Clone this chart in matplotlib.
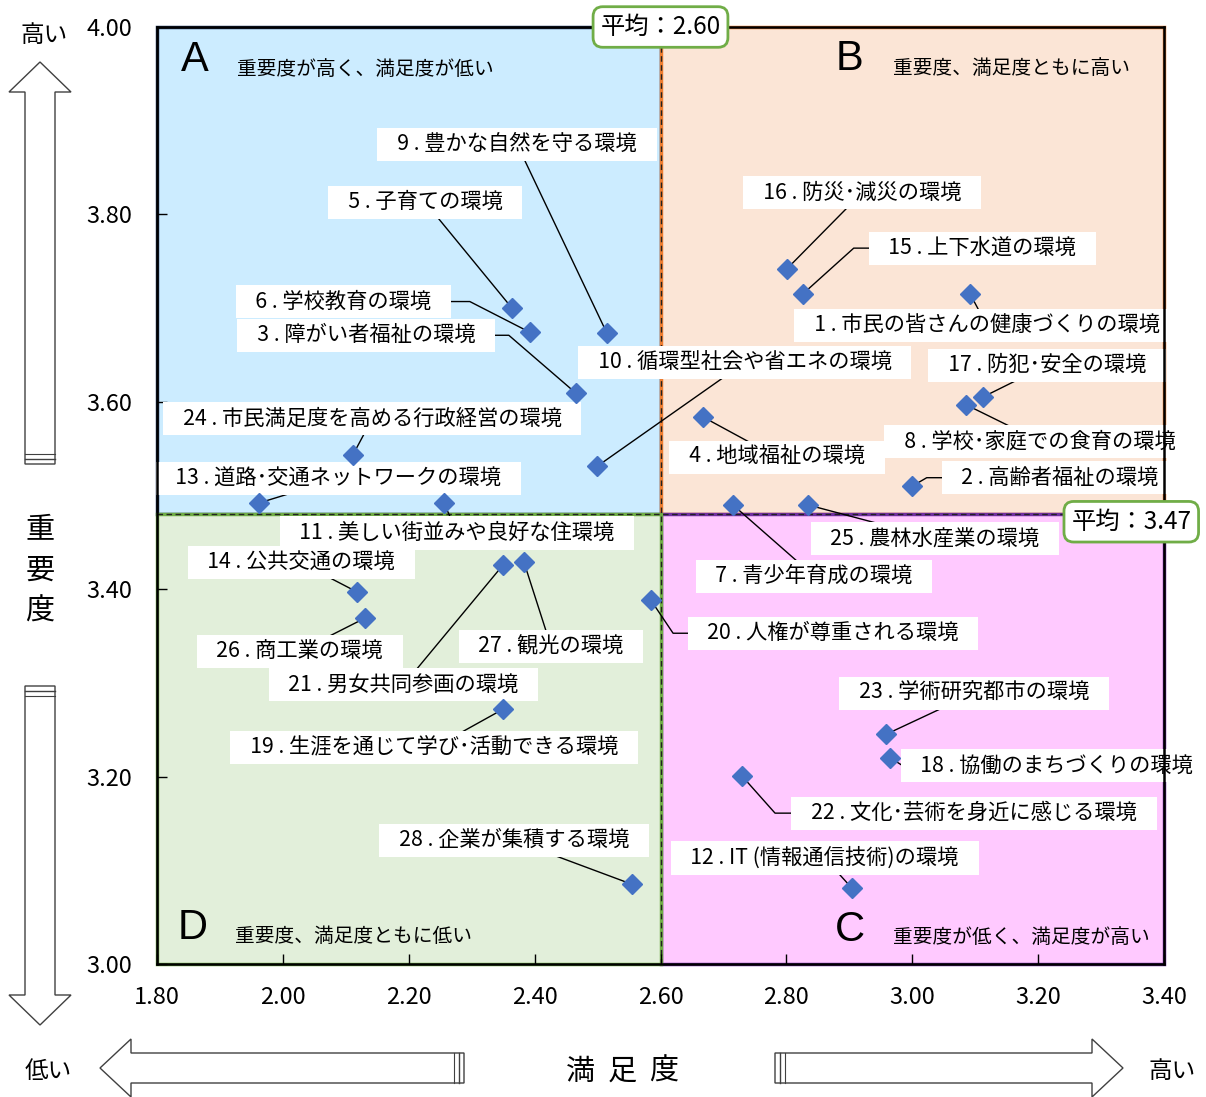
import matplotlib.pyplot as plt
from matplotlib.patches import Rectangle, Polygon
from matplotlib.ticker import FormatStrFormatter

plt.rcParams['font.family'] = ['Noto Sans CJK JP', 'DejaVu Sans']

# 項目 (No., 名称), 満足度 (x), 重要度 (y)
item_no = list(range(1, 29))
item_name = [
    '市民の皆さんの健康づくりの環境', '高齢者福祉の環境', '障がい者福祉の環境', '地域福祉の環境',
    '子育ての環境', '学校教育の環境', '青少年育成の環境', '学校･家庭での食育の環境',
    '豊かな自然を守る環境', '循環型社会や省エネの環境', '美しい街並みや良好な住環境',
    'IT (情報通信技術)の環境', '道路･交通ネットワークの環境', '公共交通の環境', '上下水道の環境',
    '防災･減災の環境', '防犯･安全の環境', '協働のまちづくりの環境', '生涯を通じて学び･活動できる環境',
    '人権が尊重される環境', '男女共同参画の環境', '文化･芸術を身近に感じる環境', '学術研究都市の環境',
    '市民満足度を高める行政経営の環境', '農林水産業の環境', '商工業の環境', '観光の環境',
    '企業が集積する環境',
]
satisfaction = [3.092, 3.000, 2.466, 2.667, 2.364, 2.393, 2.715, 3.085, 2.515, 2.499,
                2.256, 2.904, 1.962, 2.118, 2.826, 2.801, 3.112, 2.965, 2.350, 2.585,
                2.350, 2.729, 2.958, 2.111, 2.834, 2.130, 2.383, 2.555]
importance = [3.715, 3.510, 3.609, 3.584, 3.700, 3.674, 3.490, 3.597, 3.673, 3.531,
              3.492, 3.081, 3.492, 3.397, 3.715, 3.742, 3.605, 3.220, 3.272, 3.388,
              3.426, 3.201, 3.245, 3.543, 3.490, 3.369, 3.429, 3.085]

avg_sat = 2.60
avg_imp = 3.48
avg_sat_text = '平均：2.60'
avg_imp_text = '平均：3.47'

x_ticks = [1.80, 2.00, 2.20, 2.40, 2.60, 2.80, 3.00, 3.20, 3.40]
y_ticks = [3.00, 3.20, 3.40, 3.60, 3.80, 4.00]

# label placement (layout only)
label_pos = [
    (3.119, 3.681), (3.235, 3.519), (2.132, 3.671), (2.785, 3.541), (2.226, 3.813),
    (2.096, 3.707), (2.844, 3.414), (3.203, 3.558), (2.372, 3.875), (2.734, 3.642),
    (2.277, 3.460), (2.861, 3.113), (2.088, 3.518), (2.029, 3.428), (3.111, 3.764),
    (2.920, 3.823), (3.214, 3.639), (3.230, 3.212), (2.240, 3.231), (2.874, 3.353),
    (2.192, 3.298), (3.098, 3.161), (3.098, 3.289), (2.142, 3.582), (3.036, 3.454),
    (2.027, 3.334), (2.426, 3.339), (2.367, 3.132),
]
elbow = {3: 2.359, 6: 2.297, 15: 2.907, 2: 3.023, 20: 2.620, 18: 2.984, 22: 2.782}

quadrants = [
    # x0, y0, x1, y1, face, edge, letter, letter pos, desc, desc pos
    (1.80, avg_imp, 2.60, 4.00, '#CCECFF', '#203864', 'A', (1.860, 3.965), '重要度が高く、満足度が低い', (1.927, 3.955)),
    (2.60, avg_imp, 3.40, 4.00, '#FBE5D6', '#ED7D31', 'B', (2.901, 3.966), '重要度、満足度ともに高い', (2.969, 3.956)),
    (2.60, 3.00, 3.40, avg_imp, '#FFC9FF', '#7030A0', 'C', (2.901, 3.036), '重要度が低く、満足度が高い', (2.969, 3.028)),
    (1.80, 3.00, 2.60, avg_imp, '#E2EFDA', '#70AD47', 'D', (1.856, 3.038), '重要度、満足度ともに低い', (1.924, 3.029)),
]

fig = plt.figure(figsize=(12.06, 10.97), dpi=100)

# background overlay in pixel units for the big hollow arrows
bg = fig.add_axes([0, 0, 1, 1], zorder=-1)
bg.set_xlim(0, 1206)
bg.set_ylim(1097, 0)
bg.axis('off')


def v_arrow(x, tip, base, tail, hh=31, hs=15):
    pts = [(x, tip), (x + hh, base), (x + hs, base), (x + hs, tail),
           (x - hs, tail), (x - hs, base), (x - hh, base)]
    bg.add_patch(Polygon(pts, closed=True, fc='white', ec='#404040', lw=1))
    d = 5 if tip < tail else -5
    bg.plot([x - hs, x + hs], [tail - d, tail - d], color='#404040', lw=1)
    bg.plot([x - hs, x + hs], [tail - 2 * d, tail - 2 * d], color='#404040', lw=0.8)


def h_arrow(y, tip, base, tail, hh=29, hs=15):
    pts = [(tip, y), (base, y - hh), (base, y - hs), (tail, y - hs),
           (tail, y + hs), (base, y + hs), (base, y + hh)]
    bg.add_patch(Polygon(pts, closed=True, fc='white', ec='#404040', lw=1))
    d = 5 if tip < tail else -5
    bg.plot([tail - d, tail - d], [y - hs, y + hs], color='#404040', lw=1)
    bg.plot([tail - 2 * d, tail - 2 * d], [y - hs, y + hs], color='#404040', lw=0.8)


v_arrow(40, 62, 92, 464)
v_arrow(40, 1025, 995, 686)
h_arrow(1068, 100, 131, 464)
h_arrow(1068, 1123, 1092, 775)

bg.text(44, 35, '高い', fontsize=17, ha='center', va='center')
bg.text(48, 1072, '低い', fontsize=17, ha='center', va='center')
bg.text(1172, 1072, '高い', fontsize=17, ha='center', va='center')
for i, ch in enumerate('重要度'):
    bg.text(40, 530 + 41 * i, ch, fontsize=21, ha='center', va='center')
for i, ch in enumerate('満足度'):
    bg.text(580 + 42 * i, 1072, ch, fontsize=21, ha='center', va='center')

# main chart
ax = fig.add_axes([157 / 1206, 1 - 964 / 1097, (1164 - 157) / 1206, (964 - 27) / 1097])
ax.set_xlim(1.80, 3.40)
ax.set_ylim(3.00, 4.00)

for x0, y0, x1, y1, fc, ec, letter, lp, desc, dp in quadrants:
    ax.add_patch(Rectangle((x0, y0), x1 - x0, y1 - y0, fc=fc, ec=ec, lw=2.5,
                           zorder=0, clip_on=False))
    ax.text(lp[0], lp[1], letter, fontsize=30, family='Liberation Sans',
            ha='center', va='center', zorder=3)
    ax.text(dp[0], dp[1], desc, fontsize=14.2, ha='left', va='center', zorder=3)

ax.axvline(avg_sat, color='#222222', lw=1, ls=(0, (4, 2.5)), zorder=1)
ax.axhline(avg_imp, color='#222222', lw=1, ls=(0, (4, 2.5)), zorder=1)

for no, name, sx, iy, (lx, ly) in zip(item_no, item_name, satisfaction, importance, label_pos):
    if no in elbow:
        xs, ys = [sx, elbow[no], lx], [iy, ly, ly]
    else:
        xs, ys = [sx, lx], [iy, ly]
    ax.plot(xs, ys, color='black', lw=1, zorder=2)
    ax.text(lx, ly, '   %d . %s   ' % (no, name), fontsize=15.3, ha='center', va='center',
            zorder=4, bbox=dict(boxstyle='square,pad=0.26', fc='white', ec='none'))

ax.plot(satisfaction, importance, ls='none', marker='D', markersize=10,
        color='#4472C4', zorder=5)

for txt, (tx, ty) in [(avg_sat_text, (avg_sat, 4.00)), (avg_imp_text, (3.348, 3.472))]:
    ax.text(tx, ty, txt, fontsize=17.5, ha='center', va='center', zorder=10, clip_on=False,
            bbox=dict(boxstyle='round,pad=0.3,rounding_size=0.4', fc='white',
                      ec='#70AD47', lw=2))

for s in ax.spines.values():
    s.set_color('black')
    s.set_linewidth(1.8)
    s.set_zorder(6)

ax.set_xticks(x_ticks)
ax.set_yticks(y_ticks)
ax.xaxis.set_major_formatter(FormatStrFormatter('%.2f'))
ax.yaxis.set_major_formatter(FormatStrFormatter('%.2f'))
ax.tick_params(axis='both', direction='in', length=7, width=1, labelsize=17, color='black')
ax.tick_params(axis='x', pad=16)
ax.tick_params(axis='y', pad=18)

fig.savefig('out.png', dpi=100)
